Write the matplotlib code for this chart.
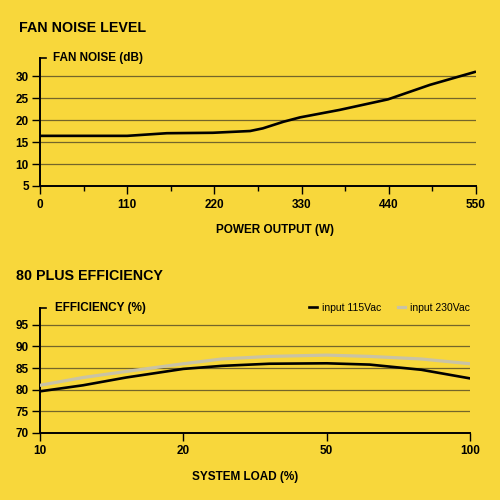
import numpy as np
import matplotlib
matplotlib.use('Agg')
import matplotlib.pyplot as plt
from matplotlib.ticker import MultipleLocator

# fan noise curve
power_w = [0, 110, 160, 218, 265, 281, 307, 328, 378, 439, 492, 550]
noise_db = [16.4, 16.4, 17.0, 17.1, 17.5, 18.1, 19.6, 20.6, 22.3, 24.7, 28.0, 31.0]
power_ticks = [0, 110, 220, 330, 440, 550]
noise_ticks = [5, 10, 15, 20, 25, 30]

# 80 plus efficiency
load_pct = [10, 13, 16, 20, 28, 38, 50, 65, 83, 100]
eff_115 = [79.6, 81.0, 82.8, 84.8, 85.5, 86.0, 86.1, 85.8, 84.6, 82.6]
eff_230 = [81.0, 82.8, 84.2, 86.0, 87.1, 87.7, 88.0, 87.7, 87.1, 86.0]
load_ticks = [10, 20, 50, 100]
eff_ticks = [70, 75, 80, 85, 90, 95]

BG = '#F8D73B'
GRID = '#74652A'
GREY = '#C9C3A6'
FONT = 'Liberation Sans'

plt.rcParams['font.family'] = FONT
plt.rcParams['font.weight'] = 'bold'

fig = plt.figure(figsize=(5, 5), dpi=100, facecolor=BG)


def style_axes(ax, grid_vals):
    ax.set_facecolor(BG)
    for s in ['top', 'right']:
        ax.spines[s].set_visible(False)
    for s in ['left', 'bottom']:
        ax.spines[s].set_linewidth(1.4)
        ax.spines[s].set_color('black')
    for v in grid_vals:
        ax.axhline(v, color=GRID, linewidth=0.9, zorder=1)
    ax.tick_params(axis='y', direction='out', length=6, width=1.0, pad=2,
                   labelsize=8.5, colors='black')
    ax.tick_params(axis='x', which='major', direction='out', length=6, width=1.0,
                   pad=3, labelsize=8.5)
    ax.tick_params(axis='x', which='minor', direction='out', length=3.5, width=1.0)
    # small cap at top of the y axis
    ax.plot([0, 0.013], [1, 1], transform=ax.transAxes, color='black',
            linewidth=1.2, clip_on=False)


# --- top chart ---
ax1 = fig.add_axes([0.08, 0.628, 0.872, 0.256])
style_axes(ax1, noise_ticks[1:])
ax1.plot(power_w, noise_db, color='black', linewidth=1.9, zorder=3,
         solid_capstyle='butt')
ax1.set_xlim(0, 550)
ax1.set_ylim(5, 34.1)
ax1.set_xticks(power_ticks)
ax1.xaxis.set_minor_locator(MultipleLocator(55))
ax1.set_yticks(noise_ticks)
ax1.text(0.03, 1.0, 'FAN NOISE (dB)', transform=ax1.transAxes, va='center',
         ha='left', fontsize=8.5)
fig.text(0.038, 0.944, 'FAN NOISE LEVEL', fontsize=10.3, va='center', ha='left')
fig.text(0.55, 0.54, 'POWER OUTPUT (W)', fontsize=8.5, va='center', ha='center')

# --- bottom chart ---
def fwd(x):
    return np.interp(x, load_ticks, [0, 1, 2, 3])


def inv(x):
    return np.interp(x, [0, 1, 2, 3], load_ticks)


ax2 = fig.add_axes([0.08, 0.1346, 0.86, 0.25])
ax2.set_xscale('function', functions=(fwd, inv))
style_axes(ax2, eff_ticks[1:])
l1, = ax2.plot(load_pct, eff_115, color='black', linewidth=1.9, zorder=4,
               label='input 115Vac')
l2, = ax2.plot(load_pct, eff_230, color=GREY, linewidth=2.3, zorder=3,
               label='input 230Vac')
ax2.set_xlim(10, 100)
ax2.set_ylim(70, 99.0)
ax2.set_xticks(load_ticks)
ax2.set_xticklabels([str(v) for v in load_ticks])
ax2.xaxis.set_minor_locator(plt.NullLocator())
ax2.set_yticks(eff_ticks)
ax2.text(0.035, 1.0, 'EFFICIENCY (%)', transform=ax2.transAxes, va='center',
         ha='left', fontsize=8.5)
leg = ax2.legend(handles=[l1, l2], loc='center right', bbox_to_anchor=(1.0, 1.0),
                 ncol=2, frameon=False, handlelength=0.7,
                 handletextpad=0.5, columnspacing=1.6, borderaxespad=0,
                 borderpad=0, prop={'family': FONT, 'weight': 'normal', 'size': 7.5})
fig.text(0.032, 0.448, '80 PLUS EFFICIENCY', fontsize=10.3, va='center', ha='left')
fig.text(0.491, 0.046, 'SYSTEM LOAD (%)', fontsize=8.5, va='center', ha='center')

fig.savefig('out.png', dpi=100, facecolor=BG)
